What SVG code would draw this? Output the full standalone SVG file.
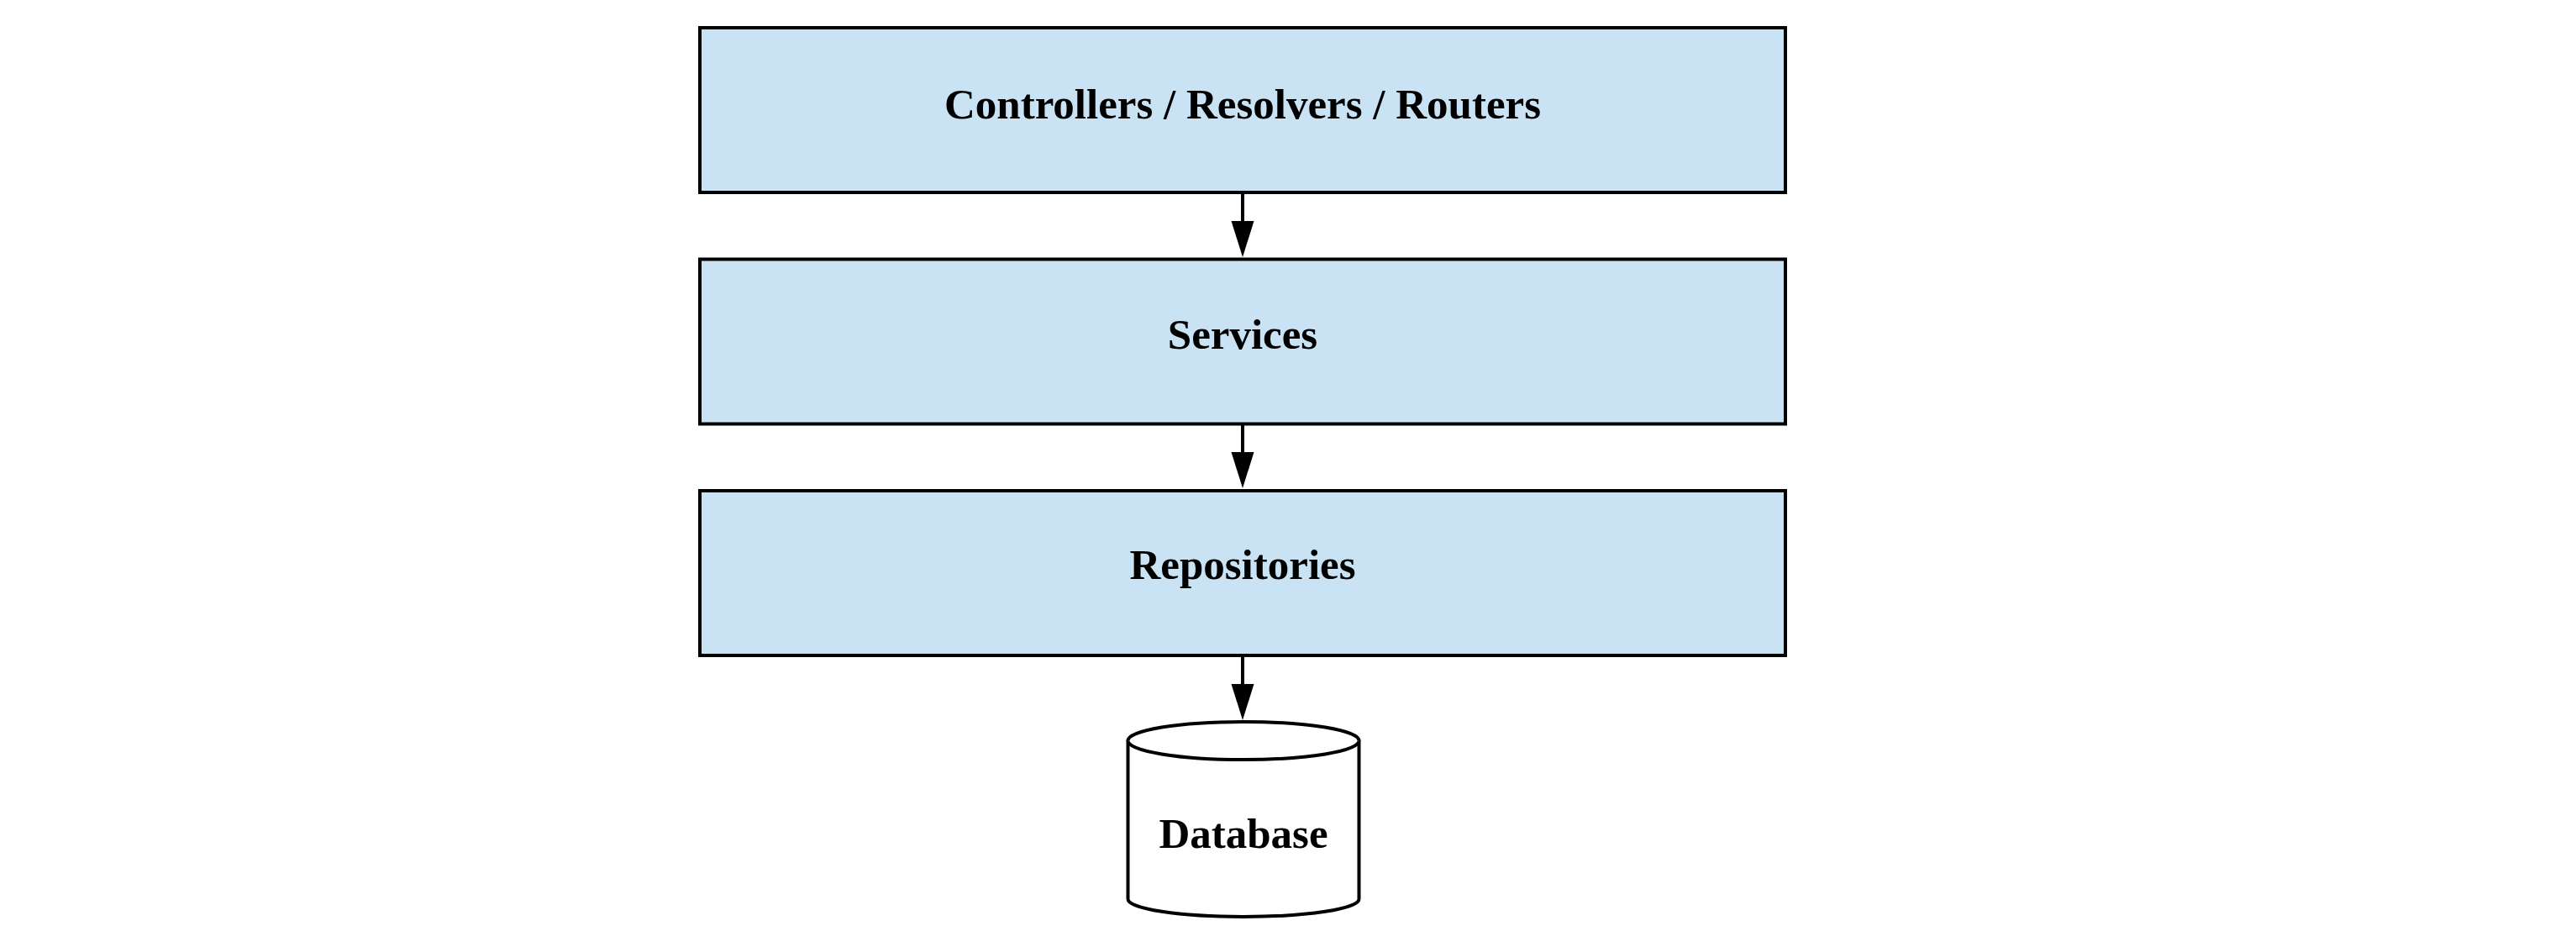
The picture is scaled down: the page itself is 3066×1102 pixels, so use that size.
<svg xmlns="http://www.w3.org/2000/svg" width="3066" height="1102" viewBox="0 0 3066 1102">
<style>
.box{fill:#c9e3f5;stroke:#000;stroke-width:4}
.lbl{font-family:"Liberation Serif","Times New Roman",serif;font-weight:bold;font-size:51px;fill:#000;text-anchor:middle}
.edge{stroke:#000;stroke-width:4;fill:none}
.head{fill:#000}
.db{fill:#fff;stroke:#000;stroke-width:4}
</style>
<rect width="3066" height="1102" fill="#fff"/>
<g id="connectors">
<path class="edge" d="M1479,231 L1479,263"/>
<path class="head" d="M1465.5,263 L1492.5,263 L1479,306 Z"/>
<path class="edge" d="M1479,506 L1479,538"/>
<path class="head" d="M1465.5,538 L1492.5,538 L1479,581 Z"/>
<path class="edge" d="M1479,781 L1479,814"/>
<path class="head" d="M1465.5,814 L1492.5,814 L1479,857 Z"/>
</g>
<g id="controllers">
<rect class="box" x="833" y="33" width="1292" height="196"/>
<text class="lbl" x="1479" y="141">Controllers / Resolvers / Routers</text>
</g>
<g id="services">
<rect class="box" x="833" y="308.5" width="1292" height="196"/>
<text class="lbl" x="1479" y="415">Services</text>
</g>
<g id="repositories">
<rect class="box" x="833" y="584" width="1292" height="196"/>
<text class="lbl" x="1479" y="689">Repositories</text>
</g>
<g id="database">
<path class="db" d="M1342.5,881.5 A137.5,22.5 0 0 1 1617.5,881.5 L1617.5,1070 A137.5,21 0 0 1 1342.5,1070 Z"/>
<path class="db" d="M1342.5,881.5 A137.5,22.5 0 0 0 1617.5,881.5" fill="none"/>
<text class="lbl" x="1480" y="1009">Database</text>
</g>
</svg>
